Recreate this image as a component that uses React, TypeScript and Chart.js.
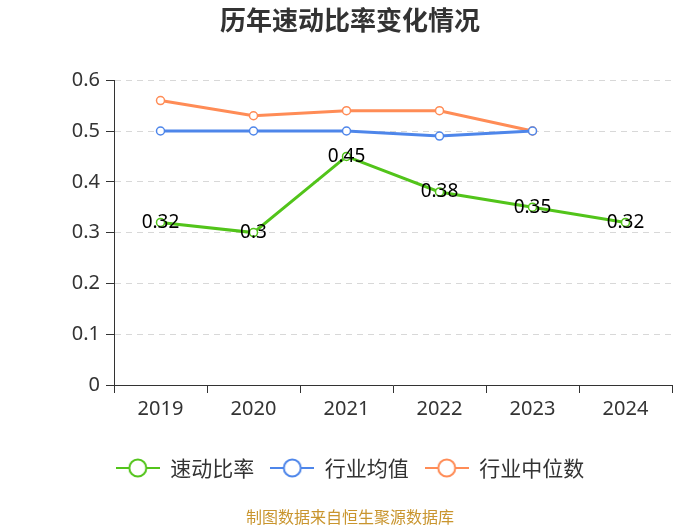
import React, { useEffect, useRef } from "react";
import { Chart, registerables } from "chart.js";

Chart.register(...registerables);

const categories = ["2019", "2020", "2021", "2022", "2023", "2024"];
const quickRatio = [0.32, 0.3, 0.45, 0.38, 0.35, 0.32];
const industryMean = [0.5, 0.5, 0.5, 0.49, 0.5, null];
const industryMedian = [0.56, 0.53, 0.54, 0.54, 0.5, null];
const seriesNames = ["速动比率", "行业均值", "行业中位数"];
const colors = ["#52c41a", "#4e86ea", "#ff8c56"];
const yTicks = [0, 0.1, 0.2, 0.3, 0.4, 0.5, 0.6];
const titleText = "历年速动比率变化情况";
const footerText = "制图数据来自恒生聚源数据库";

const CJK = "'Noto Sans CJK SC', 'Noto Sans', sans-serif";
const NUM = "'Noto Sans', 'Noto Sans CJK SC', sans-serif";

function legendMarker(color: string): HTMLCanvasElement {
  const w = 44, h = 22;
  const c = document.createElement("canvas");
  c.width = w;
  c.height = h;
  const ctx = c.getContext("2d")!;
  ctx.strokeStyle = color;
  ctx.lineWidth = 2;
  ctx.beginPath();
  ctx.moveTo(0, h / 2);
  ctx.lineTo(w, h / 2);
  ctx.stroke();
  ctx.beginPath();
  ctx.arc(w / 2, h / 2, 8.5, 0, Math.PI * 2);
  ctx.fillStyle = "#fff";
  ctx.fill();
  ctx.stroke();
  return c;
}

const labelPlugin = {
  id: "valueLabels",
  afterDatasetsDraw(chart: any) {
    const ctx = chart.ctx;
    const meta = chart.getDatasetMeta(0);
    ctx.save();
    ctx.font = `19px ${NUM}`;
    ctx.fillStyle = "#000";
    ctx.textAlign = "center";
    ctx.textBaseline = "middle";
    meta.data.forEach((pt: any, i: number) => {
      const v = quickRatio[i];
      if (v == null) return;
      ctx.fillText(String(v), pt.x, pt.y);
    });
    ctx.restore();
  },
};

const footerPlugin = {
  id: "footerText",
  afterDraw(chart: any) {
    const ctx = chart.ctx;
    ctx.save();
    ctx.font = `16px ${CJK}`;
    ctx.fillStyle = "#c9952e";
    ctx.textAlign = "center";
    ctx.textBaseline = "middle";
    ctx.fillText(footerText, chart.width / 2, 517);
    ctx.restore();
  },
};

export default function App() {
  const ref = useRef<HTMLCanvasElement>(null);
  useEffect(() => {
    document.body.style.margin = "0";
    const mk = (label: string, data: any[], color: string) => ({
      label,
      data,
      borderColor: color,
      backgroundColor: "#fff",
      borderWidth: 3,
      pointRadius: 4,
      pointBorderWidth: 1.5,
      pointBorderColor: color,
      pointBackgroundColor: "#fff",
      pointStyle: "circle",
      tension: 0,
      spanGaps: false,
    });
    const datasets = [
      mk(seriesNames[0], quickRatio, colors[0]),
      mk(seriesNames[1], industryMean, colors[1]),
      mk(seriesNames[2], industryMedian, colors[2]),
    ];
    const markers = colors.map((c) => legendMarker(c));
    const chart = new Chart(ref.current!, {
      type: "line",
      data: { labels: categories, datasets: datasets as any },
      options: {
        animation: false,
        responsive: false,
        devicePixelRatio: 1,
        layout: { padding: { left: 28, right: 28, top: 0, bottom: 36.5 } },
        plugins: {
          title: {
            display: true,
            text: titleText,
            color: "#333",
            font: { family: CJK, size: 26, weight: "bold" },
            padding: { top: 5, bottom: 44 },
          },
          legend: {
            position: "bottom",
            labels: {
              usePointStyle: true,
              pointStyleWidth: 44,
              boxHeight: 21,
              color: "#333",
              font: { family: CJK, size: 21 },
              padding: 16,
              generateLabels(chart: any) {
                return chart.data.datasets.map((ds: any, i: number) => ({
                  text: ds.label,
                  fillStyle: "#fff",
                  strokeStyle: colors[i],
                  lineWidth: 0,
                  pointStyle: markers[i],
                  datasetIndex: i,
                  hidden: false,
                  fontColor: "#333",
                }));
              },
            },
          },
          tooltip: { enabled: false },
        },
        scales: {
          x: {
            offset: true,
            afterFit: (s: any) => {
              s.height = 56.5;
            },
            grid: {
              offset: true,
              drawOnChartArea: false,
              drawTicks: true,
              tickLength: 8,
              color: "#333",
            },
            border: { color: "#333", width: 1 },
            ticks: { color: "#333", font: { family: NUM, size: 20 }, padding: 4 },
          },
          y: {
            min: 0,
            max: 0.6,
            afterFit: (s: any) => {
              s.width = 86;
            },
            afterBuildTicks: (s: any) => {
              s.ticks = yTicks.map((v) => ({ value: v }));
            },
            ticks: {
              color: "#333",
              font: { family: NUM, size: 20 },
              padding: 6,
              callback: (v: any) => (v === 0 ? "0" : Number(v).toFixed(1)),
            },
            grid: {
              color: "#d8d8d8",
              drawTicks: true,
              tickLength: 8,
              tickColor: "#333",
              tickBorderDash: [],
              lineWidth: 1,
            },
            border: { color: "#333", width: 1, dash: [6, 5] },
          },
        },
      } as any,
      plugins: [labelPlugin, footerPlugin],
    });
    return () => chart.destroy();
  }, []);
  return <canvas ref={ref} width={700} height={525} style={{ display: "block", width: 700, height: 525 }} />;
}
